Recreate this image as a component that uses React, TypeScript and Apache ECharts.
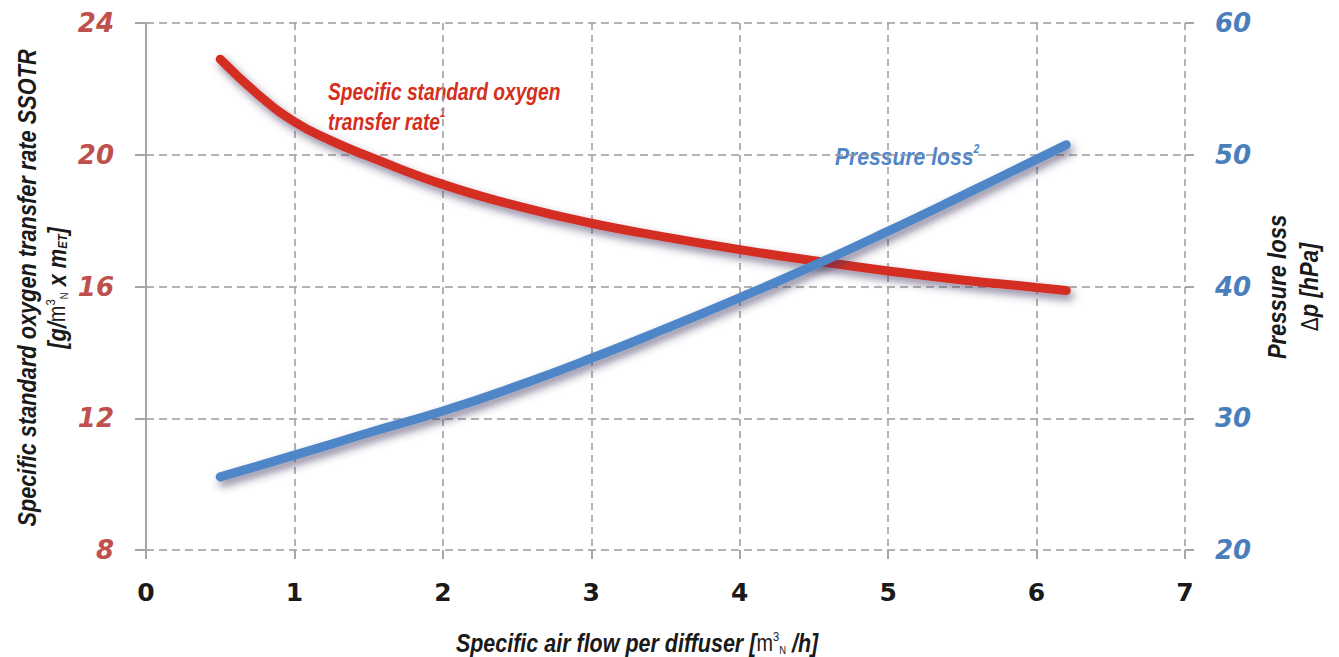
import React, { useEffect, useRef } from 'react';
import * as echarts from 'echarts';

// ---- data ----
const airFlow = [0.5, 0.75, 1, 1.25, 1.5, 2, 2.5, 3, 3.5, 4, 4.5, 5, 5.5, 6, 6.2];
const ssotr = [22.9, 21.85, 21.0, 20.42, 19.95, 19.1, 18.45, 17.92, 17.5, 17.12, 16.78, 16.47, 16.2, 15.97, 15.88];
const pressureLoss = [25.55, 26.37, 27.2, 28.04, 28.9, 30.55, 32.45, 34.55, 36.8, 39.15, 41.6, 44.2, 46.9, 49.65, 50.75];
const xTicks = [0, 1, 2, 3, 4, 5, 6, 7];
const leftTicks = [8, 12, 16, 20, 24];
const rightTicks = [20, 30, 40, 50, 60];

const RED = '#d42e20';
const BLUE = '#4f86c8';
const RED_LABEL = '#c0504d';
const BLUE_LABEL = '#4a7ebb';
const DARK = '#1a1a1a';
const GRID = '#9a9a9a';
const AXIS = '#a6a6a6';
const NARROW = "'Liberation Sans Narrow', 'Arial Narrow', 'Liberation Sans', sans-serif";
const WIDE = "'DejaVu Sans', Verdana, sans-serif";

export default function App() {
  const ref = useRef<HTMLDivElement>(null);

  useEffect(() => {
    if (!ref.current) return;
    const chart = echarts.init(ref.current, undefined, { renderer: 'svg' });
    const seriesData = (ys: number[]) => airFlow.map((x, i) => [x, ys[i]]);

    const axisShadow = {
      shadowColor: 'rgba(70,60,100,0.7)',
      shadowBlur: 6,
    };

    const lineShadow = {
      shadowColor: 'rgba(60,50,90,0.6)',
      shadowBlur: 8,
      shadowOffsetX: 3,
      shadowOffsetY: 5,
    };

    const option: any = {
      animation: false,
      backgroundColor: '#ffffff',
      grid: { left: 146, right: 154, top: 23, bottom: 107 },
      xAxis: {
        type: 'value',
        min: xTicks[0],
        max: xTicks[xTicks.length - 1],
        interval: 1,
        axisLine: {
          show: true,
          onZero: false,
          lineStyle: { color: AXIS, width: 3, ...axisShadow, shadowOffsetY: 5, shadowOffsetX: 2 },
        },
        axisTick: { show: true, inside: false, length: 9, lineStyle: { color: AXIS, width: 2 } },
        axisLabel: {
          margin: 30,
          color: DARK,
          fontSize: 25,
          fontWeight: 'bold',
          fontFamily: WIDE,
        },
        splitLine: { show: true, lineStyle: { color: GRID, width: 1.5, type: [7, 5] } },
      },
      yAxis: [
        {
          type: 'value',
          position: 'left',
          min: leftTicks[0],
          max: leftTicks[leftTicks.length - 1],
          interval: 4,
          axisLine: { show: true, onZero: false, lineStyle: { color: AXIS, width: 2 } },
          axisTick: { show: true, inside: false, length: 11, lineStyle: { color: AXIS, width: 2 } },
          axisLabel: {
            margin: 32,
            color: RED_LABEL,
            fontSize: 26,
            fontWeight: 'bold',
            fontStyle: 'italic',
            fontFamily: WIDE,
          },
          splitLine: { show: true, lineStyle: { color: GRID, width: 1.5, type: [8, 5] } },
        },
        {
          type: 'value',
          position: 'right',
          min: rightTicks[0],
          max: rightTicks[rightTicks.length - 1],
          interval: 10,
          axisLine: {
            show: true,
            onZero: false,
            lineStyle: { color: AXIS, width: 3, ...axisShadow, shadowOffsetX: 5, shadowOffsetY: 2 },
          },
          axisTick: { show: true, inside: false, length: 9, lineStyle: { color: AXIS, width: 2 } },
          axisLabel: {
            margin: 30,
            color: BLUE_LABEL,
            fontSize: 26,
            fontWeight: 'bold',
            fontStyle: 'italic',
            fontFamily: WIDE,
          },
          splitLine: { show: false },
        },
      ],
      series: [
        {
          name: 'Specific standard oxygen transfer rate',
          type: 'line',
          yAxisIndex: 0,
          data: seriesData(ssotr),
          smooth: 0.5,
          showSymbol: false,
          lineStyle: { color: RED, width: 9, cap: 'round', ...lineShadow },
          z: 3,
        },
        {
          name: 'Pressure loss',
          type: 'line',
          yAxisIndex: 1,
          data: seriesData(pressureLoss),
          smooth: 0.5,
          showSymbol: false,
          lineStyle: { color: BLUE, width: 9, cap: 'round', ...lineShadow },
          z: 4,
        },
      ],
      graphic: [
        // left axis title
        {
          type: 'text',
          x: 27,
          y: 288,
          rotation: Math.PI / 2,
          scaleX: 0.87,
          style: {
            text: 'Specific standard oxygen transfer rate SSOTR',
            fill: DARK,
            font: `italic bold 25px ${NARROW}`,
            align: 'center',
            verticalAlign: 'middle',
          },
        },
        {
          type: 'text',
          x: 57,
          y: 288,
          rotation: Math.PI / 2,
          scaleX: 0.87,
          style: {
            text: '{a|[g/}{m|m}{sup|3}{sub|N}{a| x m}{sub2|ET}{a|]}',
            align: 'center',
            verticalAlign: 'middle',
            rich: {
              a: { fill: DARK, fontSize: 25, fontWeight: 'bold', fontStyle: 'italic', fontFamily: NARROW },
              m: { fill: DARK, fontSize: 23, fontWeight: 'normal', fontFamily: NARROW },
              sup: { fill: DARK, fontSize: 13, fontWeight: 'normal', fontFamily: NARROW, verticalAlign: 'top' },
              sub: { fill: DARK, fontSize: 11, fontWeight: 'normal', fontFamily: NARROW, verticalAlign: 'bottom' },
              sub2: { fill: DARK, fontSize: 13, fontWeight: 'bold', fontStyle: 'italic', fontFamily: NARROW, verticalAlign: 'bottom' },
            },
          },
        },
        // right axis title
        {
          type: 'text',
          x: 1278,
          y: 287,
          rotation: Math.PI / 2,
          scaleX: 0.88,
          style: {
            text: 'Pressure loss',
            fill: DARK,
            font: `italic bold 25px ${NARROW}`,
            align: 'center',
            verticalAlign: 'middle',
          },
        },
        {
          type: 'text',
          x: 1310,
          y: 287,
          rotation: Math.PI / 2,
          scaleX: 0.88,
          style: {
            text: '{d|Δ}{a|p [hPa]}',
            align: 'center',
            verticalAlign: 'middle',
            rich: {
              d: { fill: DARK, fontSize: 23, fontWeight: 'normal', fontFamily: "'DejaVu Sans', sans-serif" },
              a: { fill: DARK, fontSize: 25, fontWeight: 'bold', fontStyle: 'italic', fontFamily: NARROW },
            },
          },
        },
        // x axis title
        {
          type: 'text',
          x: 637,
          y: 643,
          scaleX: 0.86,
          style: {
            text: '{a|Specific air flow per diffuser [}{m|m}{sup|3}{sub|N}{a| /h]}',
            align: 'center',
            verticalAlign: 'middle',
            rich: {
              a: { fill: DARK, fontSize: 25, fontWeight: 'bold', fontStyle: 'italic', fontFamily: NARROW },
              m: { fill: DARK, fontSize: 23, fontWeight: 'normal', fontFamily: NARROW },
              sup: { fill: DARK, fontSize: 13, fontWeight: 'normal', fontFamily: NARROW, verticalAlign: 'top' },
              sub: { fill: DARK, fontSize: 11, fontWeight: 'normal', fontFamily: NARROW, verticalAlign: 'bottom' },
            },
          },
        },
        // series annotations
        {
          type: 'text',
          x: 328,
          y: 77,
          scaleX: 0.8,
          style: {
            text: '{a|Specific standard oxygen}\n{a|transfer rate}{s|1}',
            align: 'left',
            verticalAlign: 'top',
            rich: {
              a: { fill: RED, fontSize: 24, fontWeight: 'bold', fontStyle: 'italic', fontFamily: NARROW, lineHeight: 30 },
              s: { fill: RED, fontSize: 12, fontWeight: 'bold', fontStyle: 'italic', fontFamily: NARROW, verticalAlign: 'top' },
            },
          },
        },
        {
          type: 'text',
          x: 835,
          y: 157,
          scaleX: 0.88,
          style: {
            text: '{a|Pressure loss}{s|2}',
            align: 'left',
            verticalAlign: 'middle',
            rich: {
              a: { fill: BLUE, fontSize: 24, fontWeight: 'bold', fontStyle: 'italic', fontFamily: NARROW, lineHeight: 28 },
              s: { fill: BLUE, fontSize: 12, fontWeight: 'bold', fontStyle: 'italic', fontFamily: NARROW, verticalAlign: 'top' },
            },
          },
        },
      ],
    };

    chart.setOption(option);
    return () => chart.dispose();
  }, []);

  return (
    <div
      ref={ref}
      style={{ position: 'fixed', left: 0, top: 0, width: 1339, height: 657, background: '#fff' }}
    />
  );
}
